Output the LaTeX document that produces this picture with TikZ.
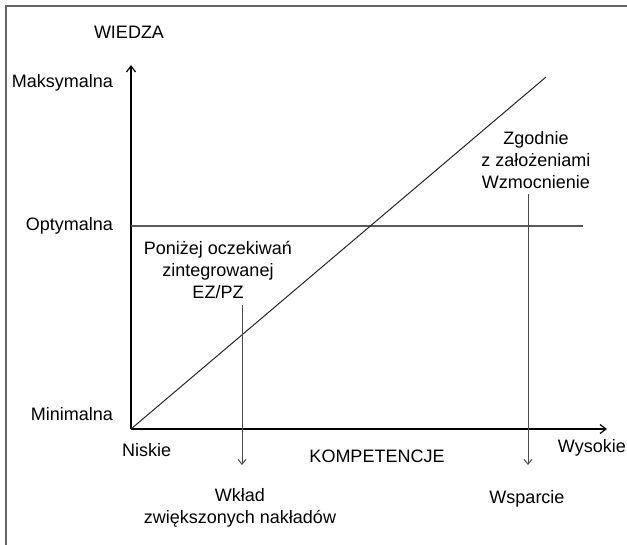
\documentclass[tikz,border=0pt]{standalone}
\usepackage{fontspec}
\setmainfont{Liberation Sans}
\usetikzlibrary{arrows.meta}
\begin{document}
\begin{tikzpicture}[x=1pt,y=-1pt,
  lbl/.style={font=\fontsize{18}{22}\selectfont, inner sep=0pt, align=center},
  axisline/.style={line width=1.3pt, -{Straight Barb[length=6pt,width=9pt,line width=1.2pt]}},
  levelline/.style={line width=1.3pt, draw=black!65},
  trendline/.style={line width=1pt, draw=black!85},
  effect/.style={line width=1pt, draw=black!70, -{Straight Barb[length=5pt,width=8pt,line width=1pt]}},
  frameline/.style={line width=1.5pt, draw=black!60}]
\useasboundingbox (0,0) rectangle (627,544);
\draw[frameline] (6,545) -- (6,6) -- (628,6);

% axes
\coordinate (origin) at (131,429);
\coordinate (ytip) at (131,65);
\coordinate (xtip) at (607,429);
\draw[axisline] (origin) -- (ytip);
\draw[axisline] (origin) -- (xtip);

% axis titles
\node[lbl] (wiedza) at (129,32) {WIEDZA};
\node[lbl] (kompetencje) at (377,456) {KOMPETENCJE};

% knowledge levels
\node[lbl, anchor=east] (maks) at (113,83) {Maksymalna};
\node[lbl, anchor=east] (opt) at (113,226) {Optymalna};
\node[lbl, anchor=east] (min) at (113,414) {Minimalna};

% competence levels
\node[lbl, anchor=west] (niskie) at (122,450) {Niskie};
\node[lbl, anchor=east] (wysokie) at (626,448) {Wysokie};

% optimal level and trend
\coordinate (optL) at (131,226);
\coordinate (optR) at (583,226);
\draw[levelline] (optL) -- (optR);
\coordinate (trendtop) at (546,77);
\draw[trendline] (origin) -- (trendtop);

% regions
\node[lbl] (ponizej) at (218,270) {Poniżej oczekiwań\\zintegrowanej\\EZ/PZ};
\node[lbl] (zgodnie) at (536,160) {Zgodnie\\z założeniami\\Wzmocnienie};

% effects
\coordinate (leftend) at (242,465);
\coordinate (rightend) at (528,465);
\draw[effect] (ponizej.south -| leftend) ++(0,6) coordinate (leftstart) -- (leftend);
\draw[effect] (zgodnie.south -| rightend) ++(0,5) coordinate (rightstart) -- (rightend);

\node[lbl] (wklad) at (240,508) {Wkład\\zwiększonych nakładów};
\node[lbl] (wsparcie) at (527,499) {Wsparcie};
\end{tikzpicture}
\end{document}
